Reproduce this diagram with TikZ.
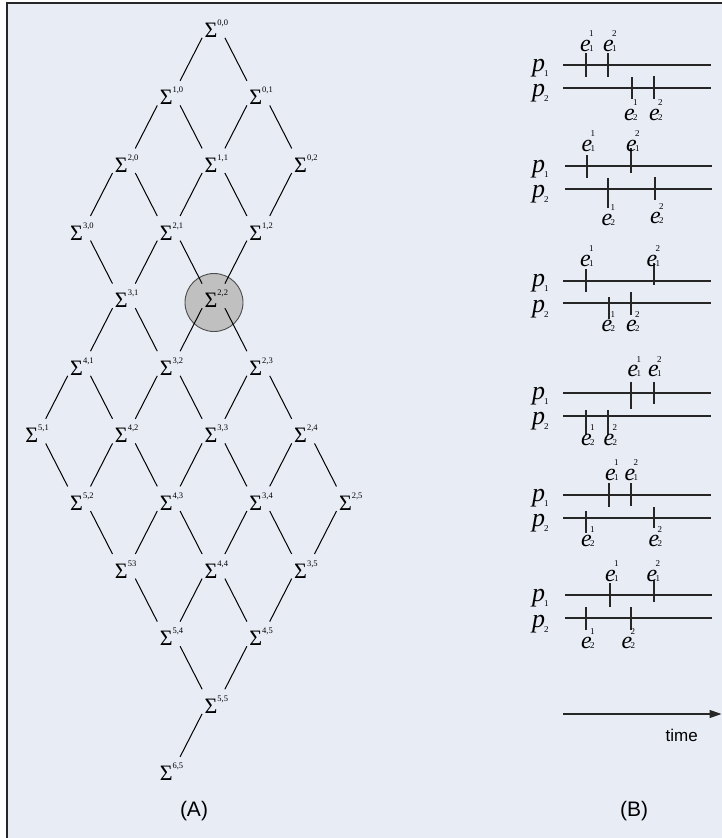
\documentclass[tikz,border=0pt]{standalone}
\usepackage{fontspec}
\setmainfont{Liberation Serif}
\newfontfamily\sansf{Liberation Sans}
\usetikzlibrary{calc,arrows.meta}
\definecolor{bgc}{RGB}{232,236,245}
\definecolor{circf}{RGB}{192,192,192}
\newcommand\sig[1]{{\fontsize{22}{22}\selectfont Σ}\rlap{\smash{\raisebox{12pt}{\fontsize{8.5}{8.5}\selectfont #1}}}}
\newcommand\plab[1]{{\fontsize{26}{26}\selectfont\itshape p}\kern-1pt\smash{\raisebox{-5pt}{\fontsize{9}{9}\selectfont #1}}}
\newcommand\elab[2]{{\fontsize{24}{24}\selectfont\itshape e}\kern-1.5pt\rlap{\smash{\raisebox{14.3pt}{\fontsize{9}{9}\selectfont #2}}}{\fontsize{9}{9}\selectfont #1}}
\newcommand\dl[2]{\draw[edge] ($(#1)!0.5!(#2)+(13.5,-26)$) -- ($(#1)!0.5!(#2)+(-8.5,17)$);}
\newcommand\dr[2]{\draw[edge] ($(#1)!0.5!(#2)+(-8.5,-26)$) -- ($(#1)!0.5!(#2)+(13.5,17)$);}
\newcommand\tickmark[3]{\draw[tk] (#1,#2) -- (#1,#3);}
\begin{document}
\begin{tikzpicture}[x=1pt,y=-1pt,
  sig/.style={inner sep=0pt,outer sep=0pt},
  edge/.style={line width=1pt,black},
  tl/.style={line width=1.2pt,black!85},
  tk/.style={line width=1.2pt,black!85},
  lab/.style={inner sep=0pt,outer sep=0pt,anchor=base west},
  captxt/.style={inner sep=0pt,font=\sansf\fontsize{21}{21}\selectfont}]
\useasboundingbox (0,0) rectangle (722,838);
\fill[white] (0,0) rectangle (722,838);
\fill[bgc] (7,3) rectangle (722,838);
\draw[line width=1.3pt,black!85] (7,838) -- (7,3) -- (722,3);

% highlighted state
\node[circle,fill=circf,draw=black!70,line width=0.9pt,minimum size=58pt,inner sep=0pt] (hl) at (214,302.5) {};

% lattice nodes
\foreach \i/\j/\t in {0/0/{0,0},1/0/{1,0},0/1/{0,1},2/0/{2,0},1/1/{1,1},0/2/{0,2},
  3/0/{3,0},2/1/{2,1},1/2/{1,2},3/1/{3,1},2/2/{2,2},4/1/{4,1},3/2/{3,2},2/3/{2,3},
  5/1/{5,1},4/2/{4,2},3/3/{3,3},2/4/{2,4},5/2/{5,2},4/3/{4,3},3/4/{3,4},2/5/{2,5},
  5/3/{53},4/4/{4,4},3/5/{3,5},5/4/{5,4},4/5/{4,5},5/5/{5,5},6/5/{6,5}}
  \node[sig] (s\i\j) at ({211+44.8*(\j-\i)},{30+67.6*(\i+\j)}) {\sig{\t}};

% edges down-left (i,j)->(i+1,j)
\dl{s00}{s10}\dl{s10}{s20}\dl{s01}{s11}\dl{s20}{s30}\dl{s11}{s21}\dl{s02}{s12}
\dl{s21}{s31}\dl{s12}{s22}\dl{s31}{s41}\dl{s22}{s32}\dl{s41}{s51}\dl{s32}{s42}
\dl{s23}{s33}\dl{s42}{s52}\dl{s33}{s43}\dl{s24}{s34}\dl{s43}{s53}\dl{s34}{s44}
\dl{s25}{s35}\dl{s44}{s54}\dl{s35}{s45}\dl{s45}{s55}\dl{s55}{s65}
% edges down-right (i,j)->(i,j+1)
\dr{s00}{s01}\dr{s10}{s11}\dr{s01}{s02}\dr{s20}{s21}\dr{s11}{s12}\dr{s30}{s31}
\dr{s21}{s22}\dr{s31}{s32}\dr{s22}{s23}\dr{s41}{s42}\dr{s32}{s33}\dr{s23}{s24}
\dr{s51}{s52}\dr{s42}{s43}\dr{s33}{s34}\dr{s24}{s25}\dr{s52}{s53}\dr{s43}{s44}
\dr{s34}{s35}\dr{s53}{s54}\dr{s44}{s45}\dr{s54}{s55}

\node[captxt] (capA) at (194,811) {(A)};

% ---------- (B) ----------
% D1
\draw[tl] (563,65) -- (711,65);
\draw[tl] (563,88) -- (711,88);
\tickmark{586}{53}{77}\tickmark{608}{53}{77}
\tickmark{632}{77}{99}\tickmark{654}{76}{99}
\node[lab] (d1p1) at (532,71) {\plab{1}};
\node[lab] (d1p2) at (532,96) {\plab{2}};
\node[lab] (d1a) at (580,51) {\elab{1}{1}};
\node[lab] (d1b) at (603,51) {\elab{1}{2}};
\node[lab] (d1c) at (624,120) {\elab{2}{1}};
\node[lab] (d1d) at (649,120) {\elab{2}{2}};
% D2
\draw[tl] (565,166) -- (712,166);
\draw[tl] (565,189) -- (712,189);
\tickmark{587}{155}{178}\tickmark{631}{148}{173}
\tickmark{608}{178}{208}\tickmark{655}{177}{200}
\node[lab] (d2p1) at (532,172) {\plab{1}};
\node[lab] (d2p2) at (532,197) {\plab{2}};
\node[lab] (d2a) at (581.5,151) {\elab{1}{1}};
\node[lab] (d2b) at (626,151) {\elab{1}{2}};
\node[lab] (d2c) at (601.5,225) {\elab{2}{1}};
\node[lab] (d2d) at (650,223.5) {\elab{2}{2}};
% D3
\draw[tl] (563,281) -- (711,281);
\draw[tl] (563,303) -- (711,303);
\tickmark{586}{269}{292}\tickmark{654}{263}{285}
\tickmark{609}{297}{319}\tickmark{631}{292}{315}
\node[lab] (d3p1) at (532,286.5) {\plab{1}};
\node[lab] (d3p2) at (532,312) {\plab{2}};
\node[lab] (d3a) at (580,266) {\elab{1}{1}};
\node[lab] (d3b) at (646.5,266) {\elab{1}{2}};
\node[lab] (d3c) at (601.5,331.5) {\elab{2}{1}};
\node[lab] (d3d) at (626,331.5) {\elab{2}{2}};
% D4
\draw[tl] (563,393) -- (711,393);
\draw[tl] (563,416) -- (711,416);
\tickmark{631}{382}{409}\tickmark{654}{382}{404}
\tickmark{586}{410}{435}\tickmark{608}{410}{435}
\node[lab] (d4p1) at (532,399) {\plab{1}};
\node[lab] (d4p2) at (532,424) {\plab{2}};
\node[lab] (d4a) at (627.5,376.5) {\elab{1}{1}};
\node[lab] (d4b) at (648,376.5) {\elab{1}{2}};
\node[lab] (d4c) at (581,445) {\elab{2}{1}};
\node[lab] (d4d) at (603.5,445) {\elab{2}{2}};
% D5
\draw[tl] (563,495) -- (711,495);
\draw[tl] (563,518) -- (711,518);
\tickmark{609}{483}{507}\tickmark{631}{483}{506}
\tickmark{586}{511}{533}\tickmark{654}{507}{528}
\node[lab] (d5p1) at (532,501) {\plab{1}};
\node[lab] (d5p2) at (532,526) {\plab{2}};
\node[lab] (d5a) at (605,480) {\elab{1}{1}};
\node[lab] (d5b) at (624.5,480) {\elab{1}{2}};
\node[lab] (d5c) at (581,546.5) {\elab{2}{1}};
\node[lab] (d5d) at (648.5,546.5) {\elab{2}{2}};
% D6
\draw[tl] (565,595) -- (712,595);
\draw[tl] (565,618) -- (712,618);
\tickmark{610}{583}{607}\tickmark{654}{580}{602}
\tickmark{586}{607}{630}\tickmark{631}{607}{630}
\node[lab] (d6p1) at (532,601) {\plab{1}};
\node[lab] (d6p2) at (532,627) {\plab{2}};
\node[lab] (d6a) at (605,581) {\elab{1}{1}};
\node[lab] (d6b) at (646.5,581) {\elab{1}{2}};
\node[lab] (d6c) at (581,648.5) {\elab{2}{1}};
\node[lab] (d6d) at (621.5,648.5) {\elab{2}{2}};

% time arrow
\coordinate (t0) at (563,714);
\coordinate (t1) at (721.5,714);
\draw[line width=1.2pt,black!85,-{Triangle[length=12pt,width=8pt]}] (t0) -- (t1);
\node[inner sep=0pt,anchor=base,font=\sansf\fontsize{17}{17}\selectfont] (tlab) at (681.7,741.7) {time};
\node[captxt] (capB) at (634,811) {(B)};
\end{tikzpicture}
\end{document}
